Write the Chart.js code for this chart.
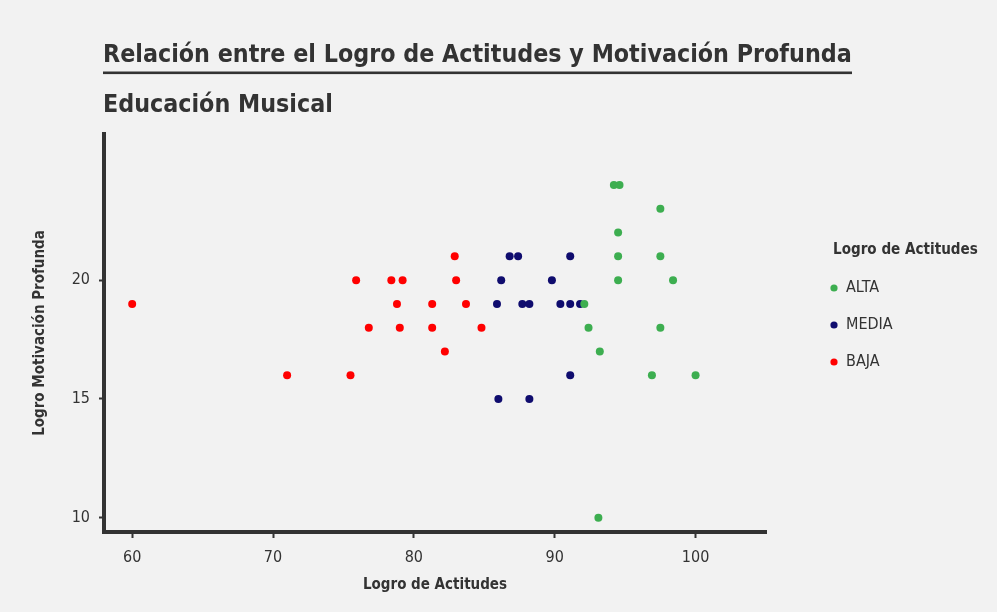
<!DOCTYPE html>
<html>
<head>
<meta charset="utf-8">
<script src="https://cdn.jsdelivr.net/npm/chart.js@4.4.1/dist/chart.umd.min.js"></script>
<style>
  body { margin: 0; background: #f2f2f2; }
  #cadre { width: 997px; height: 612px; }
</style>
</head>
<body>
<div id="cadre"><canvas id="grafico" width="997" height="612"></canvas></div>
<script>
// Niveles (leyenda)
const niveles = ['ALTA', 'MEDIA', 'BAJA'];
const coloresNivel = ['#3dae50', '#0f0c6e', '#ff0000'];

// Logro de Actitudes (x) / Logro Motivación Profunda (y) por nivel
const altaX = [94.2, 94.6, 97.5, 94.5, 94.5, 97.5, 94.5, 98.4, 92.1, 92.4, 97.5, 93.2, 96.9, 100, 93.1];
const altaY = [24, 24, 23, 22, 21, 21, 20, 20, 19, 18, 18, 17, 16, 16, 10];

const mediaX = [86.8, 87.4, 91.1, 86.2, 89.8, 85.9, 87.7, 88.2, 90.4, 91.1, 91.8, 91.1, 86.0, 88.2];
const mediaY = [21, 21, 21, 20, 20, 19, 19, 19, 19, 19, 19, 16, 15, 15];

const bajaX = [82.9, 75.9, 78.4, 79.2, 83.0, 78.8, 81.3, 83.7, 76.8, 79.0, 81.3, 84.8, 82.2, 75.5, 71.0, 60.0];
const bajaY = [21, 20, 20, 20, 20, 19, 19, 19, 18, 18, 18, 18, 17, 16, 16, 19];

const xTicks = [60, 70, 80, 90, 100];
const yTicks = [10, 15, 20];

const titulo = 'Relación entre el Logro de Actitudes y Motivación Profunda';
const subtitulo = 'Educación Musical';
const tituloX = 'Logro de Actitudes';
const tituloY = 'Logro Motivación Profunda';
const tituloLeyenda = 'Logro de Actitudes';

const FUENTE = '"Liberation Sans Narrow", "DejaVu Sans Condensed", "Roboto", sans-serif';
const TINTA = '#333333';

function puntos(xs, ys) {
    return xs.map((x, i) => ({ x: x, y: ys[i] }));
}

const series = [puntos(altaX, altaY), puntos(mediaX, mediaY), puntos(bajaX, bajaY)];

const datasets = niveles.map((nom, i) => ({
    label: nom,
    data: series[i],
    backgroundColor: coloresNivel[i],
    borderColor: coloresNivel[i],
    borderWidth: 0,
    pointRadius: 4,
    pointHoverRadius: 4
}));

// taille de police pour qu'un texte tienne dans une largeur donnée
function tailleAjustee(ctx, texte, largeur, poids) {
    ctx.font = poids + ' 20px ' + FUENTE;
    return 20 * largeur / ctx.measureText(texte).width;
}

// fond gris + titres + légende dessinés à la main
const decor = {
    id: 'decor',
    beforeDraw(chart) {
        const ctx = chart.ctx;
        ctx.save();
        ctx.fillStyle = '#f2f2f2';
        ctx.fillRect(0, 0, chart.width, chart.height);
        ctx.restore();
    },
    afterDraw(chart) {
        const ctx = chart.ctx;
        ctx.save();
        ctx.fillStyle = TINTA;
        ctx.textBaseline = 'alphabetic';
        ctx.textAlign = 'left';

        // titre ajusté à la largeur du soulignement
        ctx.font = 'bold ' + tailleAjustee(ctx, titulo, 749, 'bold') + 'px ' + FUENTE;
        ctx.fillText(titulo, 103, 62);
        ctx.fillRect(103, 71.5, 749, 2.6);

        ctx.font = 'bold ' + tailleAjustee(ctx, subtitulo, 230, 'bold') + 'px ' + FUENTE;
        ctx.fillText(subtitulo, 103, 112);

        // légende
        ctx.textBaseline = 'middle';
        ctx.font = 'bold ' + tailleAjustee(ctx, tituloLeyenda, 145, 'bold') + 'px ' + FUENTE;
        ctx.fillText(tituloLeyenda, 833, 250);
        ctx.font = '16px ' + FUENTE;
        niveles.forEach((nom, i) => {
            const y = 288 + i * 37;
            ctx.beginPath();
            ctx.fillStyle = coloresNivel[i];
            ctx.arc(834, y, 3.6, 0, Math.PI * 2);
            ctx.fill();
            ctx.fillStyle = TINTA;
            ctx.fillText(nom, 846, y);
        });
        ctx.restore();
    }
};

const ctx = document.getElementById('grafico').getContext('2d');
new Chart(ctx, {
    type: 'scatter',
    data: { datasets: datasets },
    plugins: [decor],
    options: {
        responsive: false,
        animation: false,
        layout: { padding: { top: 134, right: 231, bottom: 10, left: 20 } },
        plugins: {
            legend: { display: false },
            tooltip: { enabled: false }
        },
        scales: {
            x: {
                type: 'linear',
                min: 58,
                max: 105,
                afterBuildTicks(scale) { scale.ticks = xTicks.map(v => ({ value: v })); },
                afterFit(scale) { scale.height = 70; },
                ticks: { color: TINTA, font: { family: FUENTE, size: 16 }, padding: 10 },
                grid: { drawOnChartArea: false, tickLength: 6, tickWidth: 2, tickColor: TINTA },
                border: { display: true, width: 4, color: TINTA },
                title: {
                    display: true, text: tituloX, color: TINTA,
                    font: { family: FUENTE, size: 15, weight: 'bold' },
                    padding: { top: 0, bottom: 8 }
                }
            },
            y: {
                type: 'linear',
                min: 9.4,
                max: 26.15,
                afterBuildTicks(scale) { scale.ticks = yTicks.map(v => ({ value: v })); },
                afterFit(scale) { scale.width = 84; },
                ticks: { color: TINTA, font: { family: FUENTE, size: 16 }, padding: 9 },
                grid: { drawOnChartArea: false, tickLength: 5, tickWidth: 2, tickColor: TINTA },
                border: { display: true, width: 4, color: TINTA },
                title: {
                    display: true, text: tituloY, color: TINTA,
                    font: { family: FUENTE, size: 15, weight: 'bold' },
                    padding: { top: 11, bottom: 0 }
                }
            }
        }
    }
});
</script>
</body>
</html>
